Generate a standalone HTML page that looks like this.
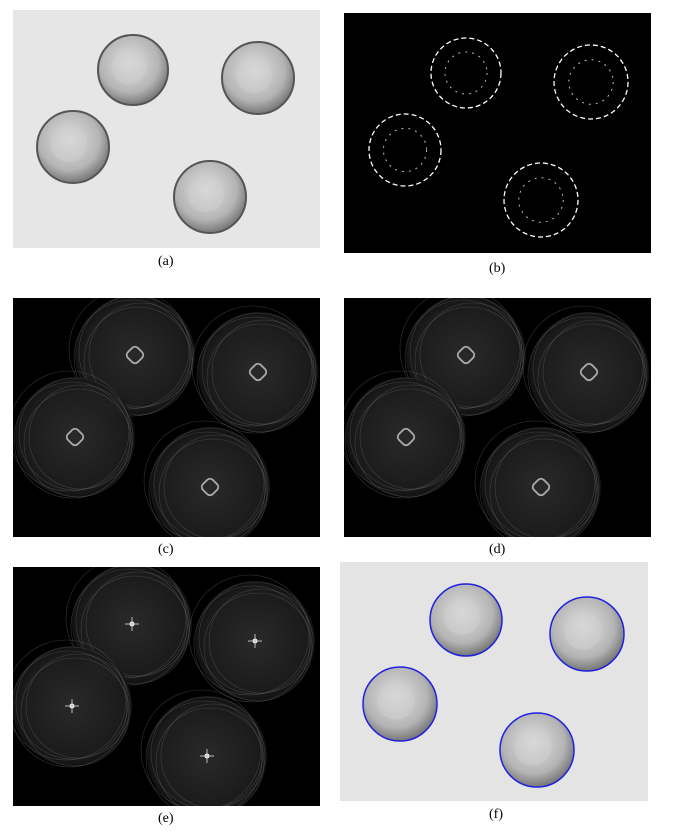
<!DOCTYPE html>
<html><head><meta charset="utf-8"><style>
html,body{margin:0;padding:0;background:#fff;width:677px;height:838px;overflow:hidden}
text{font-family:"Liberation Serif",serif;font-size:14px;fill:#000}
</style></head><body>
<svg id="fig" width="677" height="838" xmlns="http://www.w3.org/2000/svg">
<defs>
<radialGradient id="coin" cx="45%" cy="40%" r="60%">
<stop offset="0" stop-color="#e0e0e0"/><stop offset="0.7" stop-color="#b4b4b4"/><stop offset="1" stop-color="#777"/></radialGradient>
<radialGradient id="glow" cx="50%" cy="50%" r="50%">
<stop offset="0" stop-color="#2e2e2e"/><stop offset="0.85" stop-color="#1e1e1e"/><stop offset="1" stop-color="#141414"/></radialGradient>
<clipPath id="clipC"><rect x="13" y="298" width="307" height="239"/></clipPath>
<clipPath id="clipD"><rect x="344" y="298" width="307" height="239"/></clipPath>
<clipPath id="clipE"><rect x="13" y="567" width="307" height="239"/></clipPath>
</defs>
<rect x="13" y="10" width="307" height="238" fill="#e6e6e6"/>
<rect x="344" y="13" width="307" height="240" fill="#000"/>
<rect x="13" y="298" width="307" height="239" fill="#000"/>
<rect x="344" y="298" width="307" height="239" fill="#000"/>
<rect x="13" y="567" width="307" height="239" fill="#000"/>
<rect x="340" y="562" width="308" height="239" fill="#e4e4e4"/>
<g id="layer"></g>
<g id="gc" clip-path="url(#clipC)"></g>
<g id="gd" clip-path="url(#clipD)"></g>
<g id="ge" clip-path="url(#clipE)"></g>
<text x="158" y="265">(a)</text>
<text x="489" y="272">(b)</text>
<text x="158" y="553">(c)</text>
<text x="489" y="553">(d)</text>
<text x="158" y="822">(e)</text>
<text x="489" y="818">(f)</text>
</svg>
<script>
const coinsA=[[133,70,35],[258,78,36],[73,147,36],[210,197,36]];
const coinsB=[[466,73,35],[591,82,37],[405,150,36],[541,200,37]];
const coinsC=[[135,355,60],[258,372,60],[75,437,60],[210,487,60]];
const coinsF=[[466,620,36],[587,634,37],[400,704,37],[537,750,37]];
const NS="http://www.w3.org/2000/svg";
let layer=document.getElementById('layer');
function el(t,a){const e=document.createElementNS(NS,t);for(const k in a)e.setAttribute(k,a[k]);layer.appendChild(e);return e;}
function silver(list,blue,prefix){list.forEach((c,i)=>{
 const g=el('circle',{cx:c[0],cy:c[1],r:c[2],fill:'url(#coin)',stroke:blue?'#2020e0':'#555','stroke-width':blue?1.5:2});
 
 
 el('circle',{cx:c[0]-4,cy:c[1]-3,r:c[2]*0.5,fill:'#d0d0d0',opacity:0.5});
});}
silver(coinsA,false,'a');
silver(coinsF,true,'f');
coinsB.forEach((c,i)=>{
 const g=el('circle',{cx:c[0],cy:c[1],r:c[2],fill:'none',stroke:'#fff','stroke-width':1.3,'stroke-dasharray':'5 3'});
 
 
 el('circle',{cx:c[0],cy:c[1],r:c[2]*0.6,fill:'none',stroke:'#bbb','stroke-width':1,'stroke-dasharray':'2 5'});
});
function hough(dx,dy,prefix,spot,gid){layer=document.getElementById(gid);coinsC.forEach((c,i)=>{
 const x=c[0]+dx,y=c[1]+dy,r=c[2];
 const g=el('circle',{cx:x,cy:y,r:r,fill:'url(#glow)',opacity:0.9});
 
 
 for(let k=0;k<5;k++)el('circle',{cx:x+(k-2)*3,cy:y+((k*3)%5-2)*3,r:r-k*2,fill:'none',stroke:'#666','stroke-width':0.6,opacity:0.5});
 if(spot==='star'){el('circle',{cx:x,cy:y,r:2.5,fill:'#fff'});el('line',{x1:x-7,y1:y,x2:x+7,y2:y,stroke:'#bbb','stroke-width':1});el('line',{x1:x,y1:y-7,x2:x,y2:y+7,stroke:'#bbb','stroke-width':1});}
 else el('rect',{x:x-7,y:y-7,width:14,height:14,rx:4,fill:'none',stroke:'#aaa','stroke-width':1.8,transform:`rotate(45 ${x} ${y})`});
});}
hough(0,0,'c','box','gc');
hough(331,0,'d','box','gd');
hough(-3,269,'e','star','ge');
</script>
</body></html>
